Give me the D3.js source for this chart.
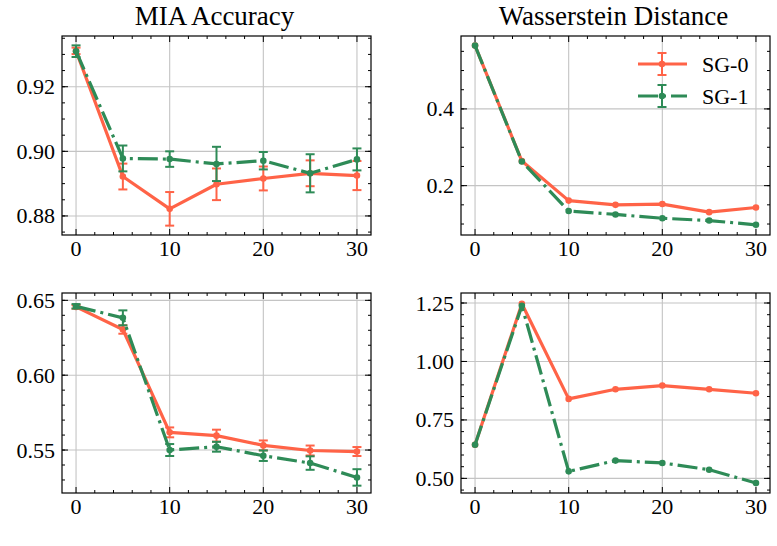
<!DOCTYPE html>
<html>
<head>
<meta charset="utf-8">
<script src="https://cdn.jsdelivr.net/npm/d3@7"></script>
<style>
  html, body { margin:0; padding:0; background:#fff; }
  svg text { font-family:"Liberation Serif","DejaVu Serif",serif; }
</style>
</head>
<body>
<svg id="chart" width="777" height="546"></svg>
<script>
// ---- data ----
const steps = [0, 5, 10, 15, 20, 25, 30];

// top-left: MIA accuracy
const miaA_sg0    = [0.9311, 0.8922, 0.8822, 0.8898, 0.8916, 0.8932, 0.8925];
const miaA_sg0Err = [0.0010, 0.0040, 0.0052, 0.0049, 0.0037, 0.0040, 0.0045];
const miaA_sg1    = [0.9310, 0.8978, 0.8976, 0.8961, 0.8971, 0.8932, 0.8975];
const miaA_sg1Err = [0.0018, 0.0040, 0.0024, 0.0053, 0.0027, 0.0059, 0.0034];

// top-right: wasserstein distance
const wdA_sg0 = [0.565, 0.264, 0.161, 0.150, 0.152, 0.131, 0.143];
const wdA_sg1 = [0.565, 0.263, 0.134, 0.125, 0.115, 0.109, 0.098];

// bottom-left: MIA accuracy
const miaB_sg0    = [0.6456, 0.6305, 0.5618, 0.5596, 0.5531, 0.5497, 0.5490];
const miaB_sg0Err = [0.0012, 0.0028, 0.0033, 0.0040, 0.0033, 0.0033, 0.0030];
const miaB_sg1    = [0.6460, 0.6383, 0.5500, 0.5522, 0.5462, 0.5413, 0.5317];
const miaB_sg1Err = [0.0015, 0.0050, 0.0040, 0.0033, 0.0035, 0.0045, 0.0055];

// bottom-right: wasserstein distance
const wdB_sg0 = [0.644, 1.247, 0.840, 0.881, 0.897, 0.881, 0.864];
const wdB_sg1 = [0.644, 1.238, 0.530, 0.576, 0.566, 0.537, 0.480];

const seriesNames = ["SG-0", "SG-1"];
const xTicks = [0, 10, 20, 30];
const titles = ["MIA Accuracy", "Wasserstein Distance"];

// ---- style ----
const RED = "#ff6347", GREEN = "#2e8b57";
const FS = 22;
const SERIF = "Liberation Serif, DejaVu Serif, serif";

const svg = d3.select("#chart");

const panels = [
  { x0:62,  x1:371, y0:36,  y1:235, ydom:[0.8741, 0.9357], yt:[0.88,0.90,0.92], ymin:0.005, fmt:".2f",
    s:[[miaA_sg0, miaA_sg0Err],[miaA_sg1, miaA_sg1Err]], title:titles[0] },
  { x0:461, x1:770, y0:36,  y1:235, ydom:[0.0714, 0.590], yt:[0.2,0.4], ymin:0.05, fmt:".1f",
    s:[[wdA_sg0, null],[wdA_sg1, null]], title:titles[1], legend:true },
  { x0:62,  x1:371, y0:293, y1:493, ydom:[0.5213, 0.6549], yt:[0.55,0.60,0.65], ymin:0.01, fmt:".2f",
    s:[[miaB_sg0, miaB_sg0Err],[miaB_sg1, miaB_sg1Err]] },
  { x0:461, x1:770, y0:293, y1:493, ydom:[0.4375, 1.2928], yt:[0.50,0.75,1.00,1.25], ymin:0.05, fmt:".2f",
    s:[[wdB_sg0, null],[wdB_sg1, null]] }
];

const colors = [RED, GREEN];
const dashes = [null, "20,5,3,5"];

function minorTicks(dom, step){
  const out = [];
  const start = Math.ceil(dom[0]/step - 1e-9);
  for (let k = start; k*step <= dom[1] + 1e-9; k++) out.push(+(k*step).toFixed(6));
  return out;
}

panels.forEach(p => {
  const x = d3.scaleLinear().domain([-1.5, 31.5]).range([p.x0, p.x1]);
  const y = d3.scaleLinear().domain(p.ydom).range([p.y1, p.y0]);
  const g = svg.append("g");

  // grid
  g.selectAll(".gx").data(xTicks).enter().append("line")
    .attr("x1", d=>x(d)).attr("x2", d=>x(d)).attr("y1", p.y0).attr("y2", p.y1)
    .attr("stroke", "#c4c4c4").attr("stroke-width", 1.1);
  g.selectAll(".gy").data(p.yt).enter().append("line")
    .attr("y1", d=>y(d)).attr("y2", d=>y(d)).attr("x1", p.x0).attr("x2", p.x1)
    .attr("stroke", "#c4c4c4").attr("stroke-width", 1.1);

  // inward ticks on all four sides
  const xMinor = minorTicks([-1.5, 31.5], 2).filter(v => v % 10 !== 0);
  const yMinor = minorTicks(p.ydom, p.ymin);
  const tk = g.append("g").attr("stroke", "#000").attr("stroke-width", 1);
  [[xTicks, 6], [xMinor, 3]].forEach(([vals, len]) => {
    vals.forEach(v => {
      tk.append("line").attr("x1", x(v)).attr("x2", x(v)).attr("y1", p.y1).attr("y2", p.y1 - len);
      tk.append("line").attr("x1", x(v)).attr("x2", x(v)).attr("y1", p.y0).attr("y2", p.y0 + len);
    });
  });
  [[p.yt, 6], [yMinor, 3]].forEach(([vals, len]) => {
    vals.forEach(v => {
      tk.append("line").attr("y1", y(v)).attr("y2", y(v)).attr("x1", p.x0).attr("x2", p.x0 + len);
      tk.append("line").attr("y1", y(v)).attr("y2", y(v)).attr("x1", p.x1).attr("x2", p.x1 - len);
    });
  });

  // tick labels
  g.selectAll(".xl").data(xTicks).enter().append("text")
    .attr("x", d=>x(d)).attr("y", p.y1 + 21).attr("text-anchor", "middle")
    .attr("font-family", SERIF).attr("font-size", FS).text(d=>d);
  g.selectAll(".yl").data(p.yt).enter().append("text")
    .attr("x", p.x0 - 7).attr("y", d=>y(d) + 7.5).attr("text-anchor", "end")
    .attr("font-family", SERIF).attr("font-size", FS).text(d=>d3.format(p.fmt)(d));

  // series
  p.s.forEach(([vals, errs], i) => {
    const pts = steps.map((s, j) => ({ x:s, y:vals[j], e: errs ? errs[j] : null }));
    const col = colors[i];
    if (errs) {
      const eb = g.append("g").attr("stroke", col).attr("stroke-width", 2);
      pts.forEach(d => {
        eb.append("line").attr("x1", x(d.x)).attr("x2", x(d.x)).attr("y1", y(d.y - d.e)).attr("y2", y(d.y + d.e));
        [d.y - d.e, d.y + d.e].forEach(v => {
          eb.append("line").attr("x1", x(d.x) - 4.5).attr("x2", x(d.x) + 4.5).attr("y1", y(v)).attr("y2", y(v));
        });
      });
    }
    g.append("path").datum(pts)
      .attr("d", d3.line().x(d=>x(d.x)).y(d=>y(d.y)))
      .attr("fill", "none").attr("stroke", col).attr("stroke-width", 3.2)
      .attr("stroke-dasharray", dashes[i]).attr("stroke-linejoin", "round");
    g.selectAll(null).data(pts).enter().append("circle")
      .attr("cx", d=>x(d.x)).attr("cy", d=>y(d.y)).attr("r", 3.3).attr("fill", col);
  });

  // frame
  g.append("rect").attr("x", p.x0).attr("y", p.y0)
    .attr("width", p.x1 - p.x0).attr("height", p.y1 - p.y0)
    .attr("fill", "none").attr("stroke", "#000").attr("stroke-width", 1.2);

  if (p.title) {
    g.append("text").attr("x", (p.x0 + p.x1)/2 - 2).attr("y", 25)
      .attr("text-anchor", "middle").attr("font-family", SERIF).attr("font-size", 27).text(p.title);
  }

  if (p.legend) {
    const lg = g.append("g");
    seriesNames.forEach((name, i) => {
      const ly = 64 + i*32, lx0 = 638, lx1 = 687, cx = 662;
      lg.append("line").attr("x1", lx0).attr("x2", lx1).attr("y1", ly).attr("y2", ly)
        .attr("stroke", colors[i]).attr("stroke-width", 3.2).attr("stroke-dasharray", dashes[i]);
      lg.append("line").attr("x1", cx).attr("x2", cx).attr("y1", ly - 11).attr("y2", ly + 11)
        .attr("stroke", colors[i]).attr("stroke-width", 2);
      [ly - 11, ly + 11].forEach(v => lg.append("line").attr("x1", cx - 4.5).attr("x2", cx + 4.5)
        .attr("y1", v).attr("y2", v).attr("stroke", colors[i]).attr("stroke-width", 2));
      lg.append("circle").attr("cx", cx).attr("cy", ly).attr("r", 3.3).attr("fill", colors[i]);
      lg.append("text").attr("x", 702).attr("y", ly + 8).attr("font-family", SERIF).attr("font-size", FS).text(name);
    });
  }
});
</script>
</body>
</html>
